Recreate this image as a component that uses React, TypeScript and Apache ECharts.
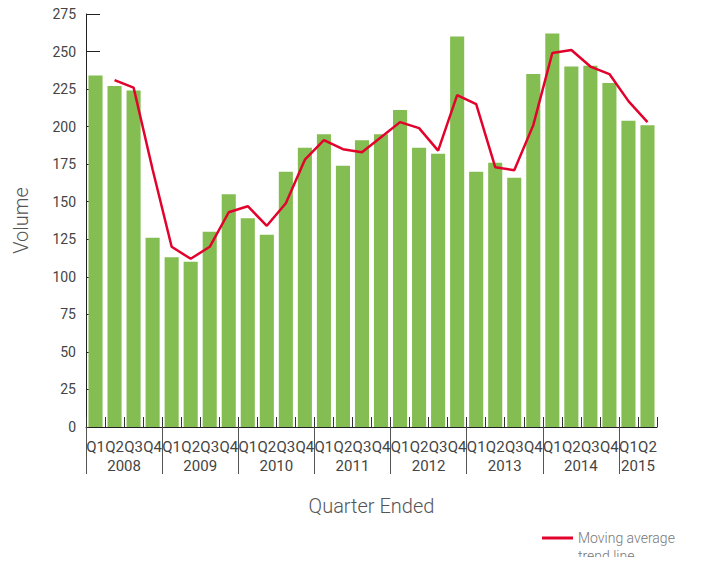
import React, { useEffect, useRef } from "react";
import * as echarts from "echarts";

const quarters: string[] = [];
const years = ["2008", "2009", "2010", "2011", "2012", "2013", "2014", "2015"];
for (let y = 0; y < 7; y++) quarters.push("Q1", "Q2", "Q3", "Q4");
quarters.push("Q1", "Q2");

const volumes = [
  234, 227, 224, 126, 113, 110, 130, 155, 139, 128, 170, 186, 195, 174, 191,
  195, 211, 186, 182, 260, 170, 176, 166, 235, 262, 240, 240.5, 229, 204, 201,
];

const movingAverage = [
  null, 231, 226, 171.5, 120, 112, 120, 143, 147, 134, 149, 178, 191, 185, 183,
  193, 203, 199, 184, 221, 215, 173, 171, 201, 249, 251, 240, 235, 217, 203,
];

const yTicks = { min: 0, max: 275, interval: 25 };

const trendName = "Moving average\ntrend line";

// half-quarter slots for year labels (boundaryGap false -> 61 points)
const yearSlots: string[] = [];
for (let i = 0; i <= quarters.length * 2; i++) yearSlots.push("");
years.forEach((y, k) => {
  const startQ = k * 4;
  const endQ = Math.min(startQ + 4, quarters.length);
  yearSlots[startQ + endQ] = y;
});

const FONT = "Roboto";

export default function App() {
  const ref = useRef<HTMLDivElement>(null);
  useEffect(() => {
    if (!ref.current) return;
    const chart = echarts.init(ref.current, null, { renderer: "svg" });
    chart.setOption({
      animation: false,
      grid: { left: 86, right: 48, top: 14, bottom: 138, containLabel: false },
      legend: {
        data: [trendName],
        left: 537,
        top: 506,
        icon: "rect",
        itemWidth: 31,
        itemHeight: 3,
        formatter: (n: string) => "\n" + n,
        textStyle: {
          fontFamily: FONT,
          fontSize: 14,
          fontWeight: 300,
          color: "#777",
          lineHeight: 18,
        },
      },
      xAxis: [
        {
          type: "category",
          data: quarters,
          boundaryGap: true,
          axisLine: { show: true, lineStyle: { color: "#222", width: 1 } },
          axisTick: { show: true, inside: true, length: 10, interval: 0, lineStyle: { color: "#333" } },
          axisLabel: { interval: 0, margin: 12, fontSize: 15, color: "#444", fontFamily: FONT },
          name: "Quarter Ended",
          nameLocation: "middle",
          nameGap: 69,
          nameTextStyle: { fontSize: 20, fontWeight: 300, color: "#555", fontFamily: FONT },
        },
        {
          type: "category",
          data: yearSlots,
          boundaryGap: false,
          position: "bottom",
          axisLine: { show: false },
          axisTick: {
            show: true,
            inside: false,
            length: 47,
            interval: (i: number) => i % 8 === 0 && i < yearSlots.length - 1,
            lineStyle: { color: "#555" },
          },
          axisLabel: { interval: 0, margin: 31, fontSize: 15, color: "#444", fontFamily: FONT },
          splitLine: { show: false },
        },
      ],
      yAxis: {
        type: "value",
        min: yTicks.min,
        max: yTicks.max,
        interval: yTicks.interval,
        axisLine: { show: true, lineStyle: { color: "#222" } },
        axisTick: { show: true, inside: true, length: 14, lineStyle: { color: "#222" } },
        axisLabel: { fontSize: 14, color: "#444", margin: 10, fontFamily: FONT },
        splitLine: { show: false },
        name: "Volume",
        nameLocation: "middle",
        nameGap: 55,
        nameTextStyle: { fontSize: 20, fontWeight: 300, color: "#555", fontFamily: FONT },
      },
      series: [
        {
          type: "bar",
          name: "Volume",
          data: volumes,
          xAxisIndex: 0,
          barCategoryGap: "26%",
          itemStyle: { color: "#84bd52" },
        },
        {
          type: "line",
          name: trendName,
          data: movingAverage,
          xAxisIndex: 0,
          showSymbol: false,
          symbol: "none",
          lineStyle: { color: "#e2032d", width: 2.5 },
          itemStyle: { color: "#e2032d" },
          z: 3,
        },
      ],
    });
    return () => chart.dispose();
  }, []);
  return <div ref={ref} style={{ width: 705, height: 565, margin: -8 }} />;
}
